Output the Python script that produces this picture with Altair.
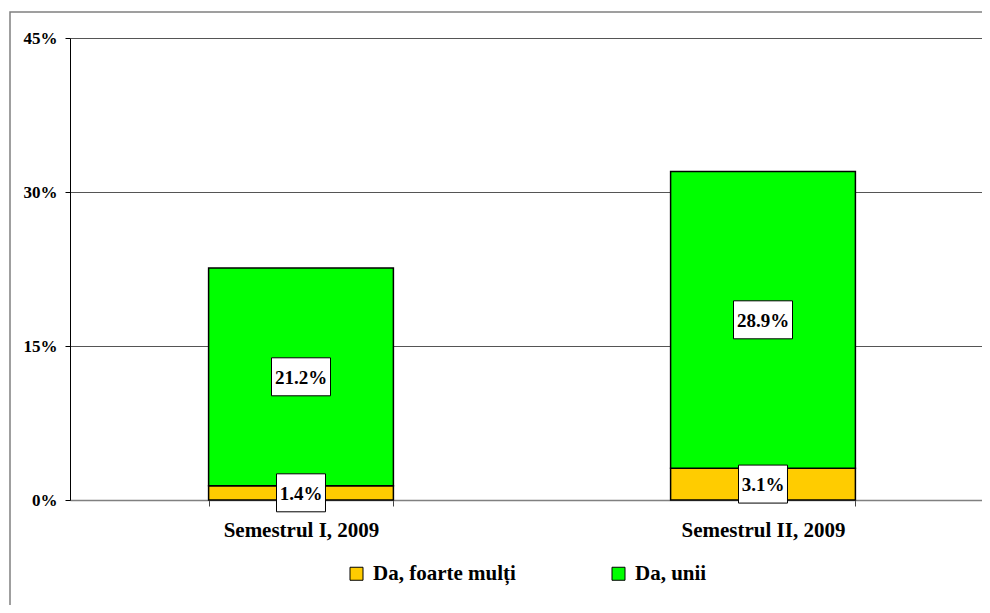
import altair as alt
import pandas as pd

periods = ["Semestrul I, 2009", "Semestrul II, 2009"]
series = ["Da, foarte mulți", "Da, unii"]
foarte_multi = [1.4, 3.1]
unii = [21.2, 28.9]
colors = ["#FFCC00", "#00FF00"]
y_ticks = [0, 15, 30, 45]

rows = []
for i, p in enumerate(periods):
    rows.append({"period": p, "series": series[0], "value": foarte_multi[i], "order": 0})
    rows.append({"period": p, "series": series[1], "value": unii[i], "order": 1})
df = pd.DataFrame(rows)

FONT = "Liberation Serif"

x_scale = alt.Scale(paddingInner=0.6, paddingOuter=0.3, range=[0, 924])
x_axis = alt.Axis(
    title=None, labelAngle=0, labelFont=FONT, labelFontSize=21, labelFontWeight="bold",
    labelColor="black", domainColor="#808080", domainWidth=1.5, tickColor="#444",
    tickSize=6, tickBand="extent", labelPadding=13, grid=False,
)
y_axis = alt.Axis(
    title=None, values=y_ticks, labelExpr="datum.value + '%'", labelFont=FONT,
    labelFontSize=17, labelFontWeight="bold", labelColor="black", domainColor="black",
    tickColor="black", tickSize=5, labelPadding=8, grid=True, gridColor="#555", gridWidth=1,
)

frame = alt.Chart(alt.Data(values=[{}])).mark_rect(
    fill="white", fillOpacity=0, stroke="#808080", strokeWidth=1.5
).encode(
    x=alt.value(-60), x2=alt.value(1200), y=alt.value(-26), y2=alt.value(800)
)

bars = alt.Chart(df).mark_bar(stroke="black", strokeWidth=1.5).encode(
    x=alt.X("period:N", sort=periods, scale=x_scale, axis=x_axis),
    y=alt.Y("value:Q", stack="zero", scale=alt.Scale(domain=[0, 45]), axis=y_axis),
    color=alt.Color(
        "series:N",
        scale=alt.Scale(domain=series, range=colors),
        legend=alt.Legend(
            title=None, orient="none", legendX=276, legendY=525, direction="horizontal",
            symbolType="square", symbolSize=169, symbolStrokeColor="black",
            symbolStrokeWidth=1, symbolOpacity=1, labelFont=FONT, labelFontSize=21,
            labelFontWeight="bold", labelColor="black", labelOffset=6, columnPadding=92,
            padding=0,
        ),
    ),
    order=alt.Order("order:Q"),
)

narrow = "M-0.83,-0.644L0.83,-0.644L0.83,0.644L-0.83,0.644Z"
wide = "M-1,-0.644L1,-0.644L1,0.644L-1,0.644Z"

lab = alt.Chart(df).transform_stack(
    as_=["y0", "y1"], stack="value", groupby=["period"],
    sort=[alt.SortField("order", order="ascending")],
).transform_calculate(
    mid="(datum.y0 + datum.y1) / 2",
    label="format(datum.value, '.1f') + '%'",
    wclass="length(format(datum.value, '.1f')) > 3 ? 'wide' : 'narrow'",
)

boxes = lab.mark_point(
    filled=True, fill="white", stroke="black", strokeWidth=1, opacity=1, size=3481
).encode(
    x=alt.X("period:N", sort=periods, scale=x_scale),
    y=alt.Y("mid:Q"),
    shape=alt.Shape("wclass:N", scale=alt.Scale(domain=["narrow", "wide"], range=[narrow, wide]), legend=None),
)

texts = lab.mark_text(
    font=FONT, fontSize=19, fontWeight="bold", color="black", baseline="middle", dy=1
).encode(
    x=alt.X("period:N", sort=periods, scale=x_scale),
    y=alt.Y("mid:Q"),
    text="label:N",
)

chart = alt.layer(frame, bars, boxes, texts).properties(
    width=912, height=462,
    autosize=alt.AutoSizeParams(type="none"),
    padding={"left": 62, "top": 30, "right": 0, "bottom": 105},
).configure_view(stroke="transparent")

chart.save("out.html", embed_options={"renderer": "svg", "actions": False})
